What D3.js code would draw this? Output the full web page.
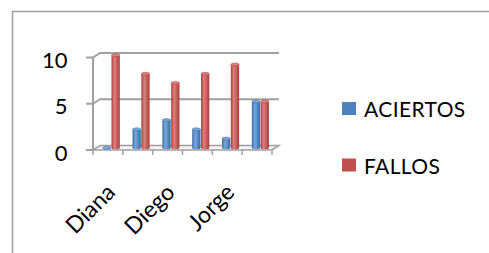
<!DOCTYPE html>
<html>
<head>
<meta charset="utf-8">
<script src="https://cdn.jsdelivr.net/npm/d3@7"></script>
<style>
  body { margin: 0; background: #fff; }
  text { font-family: Lato, "Open Sans", sans-serif; fill: #000; }
</style>
</head>
<body>
<svg id="chart" width="489" height="253"></svg>
<script>

// data
var categories = ["Diana", "", "Diego", "", "Jorge", ""];
var series = ["ACIERTOS", "FALLOS"];
var aciertos = [0, 2, 3, 2, 1, 5];
var fallos = [10, 8, 7, 8, 9, 5];
var yTicks = [0, 5, 10];

var colors = { "ACIERTOS": "#4F81BD", "FALLOS": "#C0504D" };
var light = { "ACIERTOS": "#7aa6dc", "FALLOS": "#e07e7b" };
var dark = { "ACIERTOS": "#3a6aa3", "FALLOS": "#a53f3c" };

var depthX = 7,
    depthY = -4.5,
    gridColor = "#a0a0a0";

var svg = d3.select("#chart");

// outer frame (only top and left edges visible)
svg.append("path")
    .attr("d", "M12.5,253 L12.5,11.5 L489,11.5")
    .attr("fill", "none")
    .attr("stroke", gridColor)
    .attr("stroke-width", 1.5);

var idx = d3.range(categories.length);

var x0 = d3.scaleBand()
    .domain(idx)
    .range([93, 272]);

var x1 = d3.scaleBand()
    .domain(series)
    .range([6.2, 23.8]);

var y = d3.scaleLinear()
    .domain([0, 10])
    .range([150, 57.5]);

var defs = svg.append("defs");
series.forEach(function(s){
    var g = defs.append("linearGradient")
        .attr("id", "grad-" + s)
        .attr("x1", "0%").attr("x2", "100%")
        .attr("y1", "0%").attr("y2", "0%");
    g.append("stop").attr("offset", "0%").attr("stop-color", dark[s]);
    g.append("stop").attr("offset", "35%").attr("stop-color", light[s]);
    g.append("stop").attr("offset", "100%").attr("stop-color", dark[s]);
});

// floor
var x0min = x0.range()[0], x0max = x0.range()[1];
svg.append("polygon")
    .attr("points", [
        [x0min, y(0)], [x0max, y(0)],
        [x0max + depthX, y(0) + depthY], [x0min + depthX, y(0) + depthY]
    ].join(" "))
    .attr("fill", "#f4f4f4")
    .attr("stroke", gridColor)
    .attr("stroke-width", 1.5);

// gridlines: diagonal on left wall then along the back wall
svg.append("g")
    .selectAll("path")
    .data(yTicks.filter(function(d){ return d > 0; }))
    .enter().append("path")
    .attr("d", function(d){
        return "M" + x0min + "," + y(d) +
            " L" + (x0min + depthX) + "," + (y(d) + depthY) +
            " L" + (x0max + depthX) + "," + (y(d) + depthY);
    })
    .attr("fill", "none")
    .attr("stroke", gridColor)
    .attr("stroke-width", 2);

// value axis line + ticks
svg.append("line")
    .attr("x1", x0min).attr("x2", x0min)
    .attr("y1", y(10)).attr("y2", y(0))
    .attr("stroke", gridColor)
    .attr("stroke-width", 2);

var yAxis = svg.append("g");
yAxis.selectAll("line")
    .data(yTicks)
    .enter().append("line")
    .attr("x1", x0min - 7).attr("x2", x0min)
    .attr("y1", function(d){ return y(d); })
    .attr("y2", function(d){ return y(d); })
    .attr("stroke", gridColor)
    .attr("stroke-width", 2);

yAxis.selectAll("text")
    .data(yTicks)
    .enter().append("text")
    .attr("x", 67.5)
    .attr("y", function(d){ return y(d) + 3; })
    .attr("dy", "0.35em")
    .attr("text-anchor", "end")
    .attr("font-size", 22)
    .text(function(d){ return d; });

// category ticks
svg.append("g")
    .selectAll("line")
    .data(d3.range(categories.length + 1))
    .enter().append("line")
    .attr("x1", function(i){ return x0min + i * x0.bandwidth(); })
    .attr("x2", function(i){ return x0min + i * x0.bandwidth(); })
    .attr("y1", y(0))
    .attr("y2", y(0) + 5)
    .attr("stroke", gridColor)
    .attr("stroke-width", 1.5);

// category labels
svg.append("g")
    .selectAll("text")
    .data(idx)
    .enter().append("text")
    .attr("transform", function(i){
        var cx = x0(i) + x0.bandwidth() / 2 + 3;
        return "translate(" + cx + "," + (y(0) + 38) + ") rotate(-45)";
    })
    .attr("text-anchor", "end")
    .attr("dy", "0.35em")
    .attr("font-size", 23)
    .text(function(i){ return categories[i]; });

// bars as cylinders, sitting at mid depth
var rows = idx.map(function(i){
    return [
        {cat: i, key: "ACIERTOS", value: aciertos[i]},
        {cat: i, key: "FALLOS", value: fallos[i]}
    ];
});

var bars = svg.append("g")
    .attr("transform", "translate(" + depthX / 2 + "," + depthY / 2 + ")");

var barG = bars.selectAll("g")
    .data(d3.merge(rows))
    .enter().append("g");

barG.append("path")
    .attr("d", function(d){
        var left = x0(d.cat) + x1(d.key),
            w = x1.bandwidth() - 0.5,
            top = y(d.value),
            base = y(0),
            ry = 1.5;
        return "M" + left + "," + top +
            " L" + left + "," + base +
            " A" + (w / 2) + "," + ry + " 0 0 0 " + (left + w) + "," + base +
            " L" + (left + w) + "," + top + " Z";
    })
    .attr("fill", function(d){ return "url(#grad-" + d.key + ")"; });

barG.append("ellipse")
    .attr("cx", function(d){ return x0(d.cat) + x1(d.key) + (x1.bandwidth() - 0.5) / 2; })
    .attr("cy", function(d){ return y(d.value); })
    .attr("rx", (x1.bandwidth() - 0.5) / 2)
    .attr("ry", 1.5)
    .attr("fill", function(d){ return light[d.key]; })
    .attr("stroke", function(d){ return dark[d.key]; })
    .attr("stroke-width", 0.5);

// legend
var legend = svg.append("g")
    .selectAll("g")
    .data(series)
    .enter().append("g")
    .attr("transform", function(d, i){ return "translate(342," + (102 + i * 56.5) + ")"; });

legend.append("rect")
    .attr("width", 14)
    .attr("height", 13)
    .attr("fill", function(d){ return colors[d]; });

legend.append("text")
    .attr("x", 22)
    .attr("y", 15)
    .attr("font-size", 21)
    .attr("letter-spacing", 0.4)
    .text(function(d){ return d; });

</script>
</body>
</html>
